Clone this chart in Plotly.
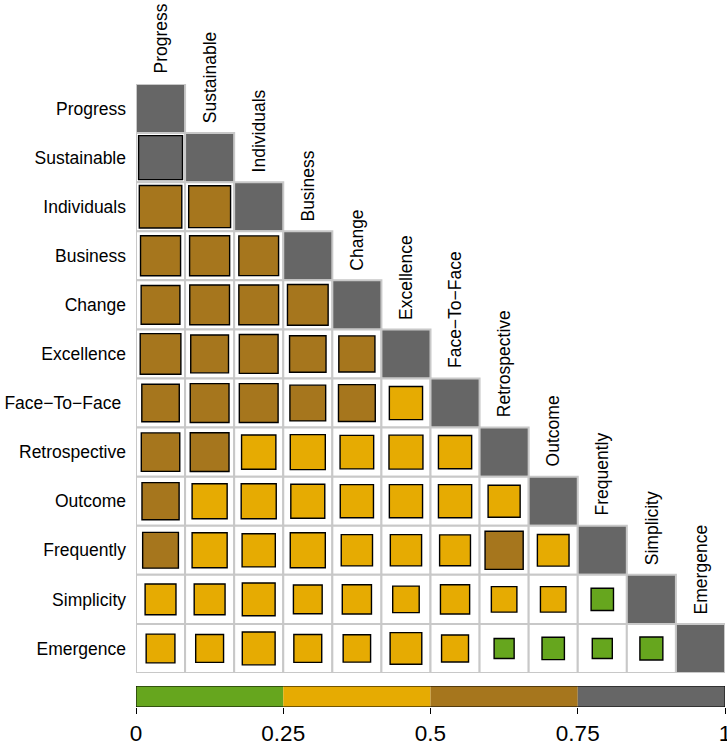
import numpy as np
import plotly.graph_objects as go

# Terms, in matrix order
terms = ["Progress", "Sustainable", "Individuals", "Business", "Change", "Excellence",
         "Face\u2212To\u2212Face\u00a0", "Retrospective", "Outcome", "Frequently", "Simplicity", "Emergence"]

# Lower-triangle association values, one list per row (columns 0..row-1)
row_sustainable = [0.77]
row_individuals = [0.72, 0.70]
row_business = [0.64, 0.64, 0.63]
row_change = [0.60, 0.63, 0.63, 0.66]
row_excellence = [0.66, 0.57, 0.60, 0.53, 0.52]
row_facetoface = [0.56, 0.60, 0.60, 0.51, 0.54, 0.44]
row_retrospective = [0.59, 0.60, 0.47, 0.49, 0.45, 0.46, 0.44]
row_outcome = [0.55, 0.49, 0.49, 0.46, 0.44, 0.44, 0.44, 0.41]
row_frequently = [0.51, 0.49, 0.44, 0.49, 0.39, 0.39, 0.38, 0.58, 0.40]
row_simplicity = [0.38, 0.38, 0.43, 0.33, 0.34, 0.28, 0.34, 0.26, 0.26, 0.20]
row_emergence = [0.33, 0.31, 0.43, 0.31, 0.30, 0.40, 0.29, 0.16, 0.20, 0.16, 0.21]

lower_rows = [[], row_sustainable, row_individuals, row_business, row_change, row_excellence,
              row_facetoface, row_retrospective, row_outcome, row_frequently,
              row_simplicity, row_emergence]

# Colour bins
bin_edges = [0.0, 0.25, 0.5, 0.75, 1.0]
bin_colors = ["#66a61e", "#e6ab02", "#a6761d", "#666666"]
tick_labels = ["0", "0.25", "0.5", "0.75", "1"]


def bin_color(v):
    for k in range(len(bin_colors)):
        if v < bin_edges[k + 1] or k == len(bin_colors) - 1:
            return bin_colors[k]


n = len(terms)
grid_col = "#c8c8c8"
font_family = "Liberation Sans, Arial, sans-serif"
max_side = 1.02  # square side (data units) for a value of 1; area scales with value

shapes = []
# Cell grid of the lower triangle, with filled diagonal
for i in range(n):
    for j in range(i + 1):
        diag = i == j
        shapes.append(dict(
            type="rect", xref="x", yref="y",
            x0=j + 0.5, x1=j + 1.5, y0=i + 0.5, y1=i + 1.5,
            line=dict(color=grid_col, width=2),
            fillcolor="#666666" if diag else "white",
            layer="below",
        ))

# Value squares
for i, row in enumerate(lower_rows):
    for j, v in enumerate(row):
        h = max_side * np.sqrt(v) / 2
        cx, cy = j + 1, i + 1
        shapes.append(dict(
            type="rect", xref="x", yref="y",
            x0=cx - h, x1=cx + h, y0=cy - h, y1=cy + h,
            line=dict(color="black", width=1.4),
            fillcolor=bin_color(v),
        ))

# Colour legend bar
for k, c in enumerate(bin_colors):
    shapes.append(dict(
        type="rect", xref="x2", yref="y2",
        x0=bin_edges[k], x1=bin_edges[k + 1], y0=0, y1=1,
        line=dict(width=0), fillcolor=c,
    ))
shapes.append(dict(
    type="rect", xref="x2", yref="y2", x0=0, x1=1, y0=0, y1=1,
    line=dict(color="black", width=1), fillcolor="rgba(0,0,0,0)",
))

# Column labels above the diagonal cells
annotations = []
for j, t in enumerate(terms):
    annotations.append(dict(
        x=j + 1, y=j + 0.5, xref="x", yref="y",
        text=t.strip("\u00a0"), textangle=-90, showarrow=False,
        xanchor="center", yanchor="bottom", yshift=8,
        font=dict(family=font_family, size=17.5, color="black"),
    ))

fig = go.Figure()
# Invisible traces to anchor both coordinate systems
fig.add_trace(go.Scatter(x=[1, n], y=[1, n], mode="markers",
                         marker=dict(opacity=0), hoverinfo="skip", showlegend=False))
fig.add_trace(go.Scatter(x=[0, 1], y=[0, 1], mode="markers", xaxis="x2", yaxis="y2",
                         marker=dict(opacity=0), hoverinfo="skip", showlegend=False))

W, H = 727, 748
top, bottom = 84, 41
plot_h = H - top - bottom
main_bottom = (H - bottom - 673) / plot_h
bar_top = (H - bottom - 686) / plot_h

fig.update_layout(
    width=W, height=H,
    margin=dict(l=136, r=2, t=top, b=bottom, pad=0, autoexpand=False),
    paper_bgcolor="white", plot_bgcolor="white",
    shapes=shapes, annotations=annotations,
    xaxis=dict(range=[0.5, n + 0.5], domain=[0, 1], showgrid=False, zeroline=False,
               showticklabels=False, ticks="", showline=False, fixedrange=True,
               automargin=False),
    yaxis=dict(range=[n + 0.5, 0.5], domain=[main_bottom, 1], showgrid=False, zeroline=False,
               tickmode="array", tickvals=list(range(1, n + 1)), ticktext=terms,
               ticks="", ticklabelstandoff=9, showline=False, automargin=False,
               tickfont=dict(family=font_family, size=17.5, color="black"), fixedrange=True),
    xaxis2=dict(range=[0, 1], domain=[0, 1], anchor="y2", showgrid=False, zeroline=False,
                tickmode="array", tickvals=bin_edges, ticktext=tick_labels,
                ticks="outside", ticklen=6, tickwidth=1, tickcolor="black",
                ticklabeloverflow="allow", automargin=False,
                tickfont=dict(family=font_family, size=22.5, color="black"),
                showline=False, fixedrange=True),
    yaxis2=dict(range=[0, 1], domain=[0, bar_top], anchor="x2", showgrid=False,
                zeroline=False, showticklabels=False, ticks="", fixedrange=True,
                automargin=False),
    showlegend=False,
)

fig.write_html("out.html")
